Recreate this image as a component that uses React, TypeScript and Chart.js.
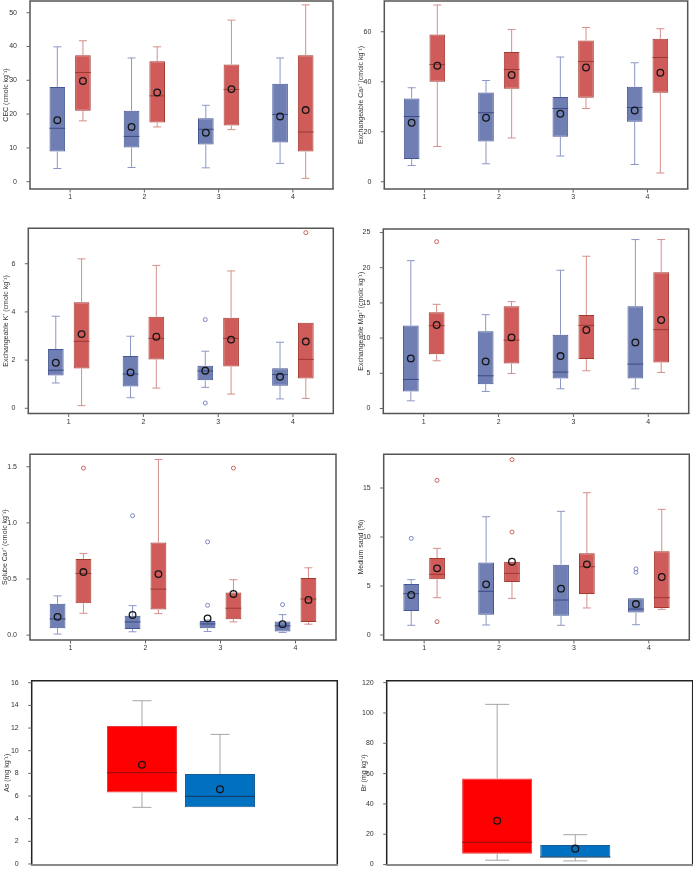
import React, { useEffect, useRef } from 'react';
import { Chart, registerables } from 'chart.js';

Chart.register(...registerables);

// ---------- DATA ----------
// each row (one per group): [min, q1, median, q3, max, mean]
const GROUPS = ['1', '2', '3', '4'];
const SITES = [''];

const CEC_BLUE = [[3.9, 8.9, 15.8, 28.0, 39.9, 18.2], [4.2, 10.1, 13.4, 21.0, 36.6, 16.2], [4.1, 11.0, 15.5, 18.8, 22.6, 14.5], [5.4, 11.6, 19.9, 29.0, 36.6, 19.3]];
const CEC_RED = [[18.0, 21.0, 32.3, 37.4, 41.7, 29.8], [16.2, 17.5, 25.4, 35.6, 39.9, 26.4], [15.4, 16.6, 27.3, 34.7, 47.8, 27.4], [1.0, 8.9, 14.7, 37.4, 52.3, 21.2]];
const CEC_TICKS = [0, 10, 20, 30, 40, 50];

const CA_BLUE = [[6.5, 9.1, 26.1, 33.3, 37.6, 23.6], [7.2, 16.1, 27.6, 35.7, 40.5, 25.6], [10.3, 18.0, 29.3, 33.9, 49.9, 27.2], [6.9, 24.0, 29.7, 38.0, 47.6, 28.5]];
const CA_RED = [[14.1, 40.0, 46.9, 58.9, 70.7, 46.4], [17.5, 37.2, 44.9, 51.9, 60.9, 42.7], [29.3, 33.6, 48.1, 56.5, 61.7, 45.7], [3.5, 35.6, 49.7, 57.2, 61.2, 43.6]];
const CA_TICKS = [0, 20, 40, 60];

const K_BLUE = [[1.05, 1.36, 1.58, 2.46, 3.82, 1.89], [0.44, 0.9, 1.42, 2.17, 2.99, 1.49], [0.87, 1.16, 1.55, 1.77, 2.37, 1.56], [0.39, 0.94, 1.4, 1.66, 2.74, 1.31]];
const K_RED = [[0.11, 1.65, 2.78, 4.4, 6.2, 3.08], [0.84, 2.03, 2.9, 3.8, 5.93, 2.97], [0.59, 1.73, 2.9, 3.76, 5.7, 2.85], [0.41, 1.24, 2.03, 3.55, 3.55, 2.77]];
const K_BLUE_OUT = [[], [], [3.68, 0.22], []];
const K_RED_OUT = [[], [], [], [7.29]];
const K_TICKS = [0, 2, 4, 6];

const MG_BLUE = [[1.09, 2.42, 4.13, 11.8, 21.0, 7.12], [2.42, 3.46, 4.65, 10.96, 13.33, 6.69], [2.8, 4.27, 5.17, 10.48, 19.64, 7.45], [2.8, 4.27, 6.31, 14.52, 24.0, 9.39]];
const MG_RED = [[6.78, 7.69, 11.76, 13.66, 14.8, 11.86], [4.98, 6.4, 9.72, 14.52, 15.18, 10.1], [5.36, 7.02, 11.81, 13.28, 21.63, 11.15], [5.12, 6.55, 11.2, 19.35, 24.0, 12.57]];
const MG_RED_OUT = [[23.7], [], [], []];
const MG_TICKS = [0, 5, 10, 15, 20, 25];

const SCA_BLUE = [[0.01, 0.062, 0.145, 0.28, 0.35, 0.163], [0.03, 0.056, 0.118, 0.172, 0.263, 0.18], [0.033, 0.062, 0.1, 0.127, 0.135, 0.15], [0.024, 0.033, 0.083, 0.121, 0.183, 0.098]];
const SCA_RED = [[0.195, 0.284, 0.55, 0.678, 0.728, 0.562], [0.192, 0.228, 0.41, 0.825, 1.565, 0.544], [0.118, 0.142, 0.24, 0.379, 0.494, 0.367], [0.098, 0.118, 0.322, 0.509, 0.6, 0.314]];
const SCA_BLUE_OUT = [[], [1.064], [0.266, 0.831], [0.272]];
const SCA_RED_OUT = [[1.488], [], [1.488], []];
const SCA_TICKS = [0, 0.5, 1.0, 1.5];

const SAND_BLUE = [[0.99, 2.45, 4.22, 5.2, 5.65, 4.08], [1.02, 2.07, 4.46, 7.41, 12.07, 5.17], [0.99, 1.97, 3.57, 7.18, 12.62, 4.73], [1.05, 2.3, 2.65, 3.75, 3.75, 3.16]];
const SAND_RED = [[3.81, 5.68, 6.19, 7.86, 8.84, 6.8], [3.74, 5.41, 6.29, 7.48, 7.48, 7.48], [2.76, 4.18, 6.97, 8.33, 14.52, 7.21], [2.62, 2.76, 3.81, 8.54, 12.82, 5.92]];
const SAND_BLUE_OUT = [[9.86], [], [], [6.75, 6.4]];
const SAND_RED_OUT = [[15.78, 1.36], [17.9, 10.5], [], []];
const SAND_TICKS = [0, 5, 10, 15];

const AS_RED = [[5.0, 6.32, 8.06, 12.18, 14.41, 8.76]];
const AS_BLUE = [[5.0, 5.0, 5.97, 7.94, 11.44, 6.59]];
const AS_TICKS = [0, 2, 4, 6, 8, 10, 12, 14, 16];

const BR_RED = [[2.85, 7.2, 14.7, 56.8, 105.7, 28.9]];
const BR_BLUE = [[2.4, 4.6, 5.0, 12.9, 19.7, 10.5]];
const BR_TICKS = [0, 20, 40, 60, 80, 100, 120];

// ---------- STYLES ----------
const FONT = '"Liberation Sans", Arial, sans-serif';
const SAS_BLUE = { fill: '#6F7EB3', border: '#445694', whisker: '#8C97C6', median: '#3A4A85', outStroke: '#7A86BE' };
const SAS_RED = { fill: '#D05B5B', border: '#A23A2E', whisker: '#D38F8A', median: '#9A3A30', outStroke: '#C8635C' };
const XL_RED = { fill: '#FF0000', border: '#E83A3A', whisker: '#A6A6A6', median: '#8B1010', outStroke: '#A6A6A6' };
const XL_BLUE = { fill: '#0070C0', border: '#1B5C96', whisker: '#A6A6A6', median: '#12375E', outStroke: '#A6A6A6' };

const SAS = { inset: [3, 3], cPct: 0.69, bPct: 0.61, capW: 8, meanR: 3.3, showX: true, frame2: '#555555', frameBottom: '#555555' };
const XL = { inset: [0, 7], cPct: 0.5225, bPct: 0.897, capW: 19, meanR: 3.4, showX: false, frame2: '#222222', frameBottom: '#8a8a8a' };

const PANELS = [
  { ...SAS, canvas: [0, 0, 346, 205], frame: [30, 1, 333, 189], titleX: 6, title: 'CEC (cmolc kg⁻¹)', ticks: CEC_TICKS, dec: 0, yMin: -2.16, yMax: 53.46, labels: GROUPS,
    series: [{ rows: CEC_BLUE, out: null, ...SAS_BLUE }, { rows: CEC_RED, out: null, ...SAS_RED }] },
  { ...SAS, canvas: [346, 0, 347, 205], frame: [384.3, 1, 687.7, 189], titleX: 361, title: 'Exchangeable Ca²⁺ (cmolc kg⁻¹)', ticks: CA_TICKS, dec: 0, yMin: -2.9, yMax: 72.3, labels: GROUPS,
    series: [{ rows: CA_BLUE, out: null, ...SAS_BLUE }, { rows: CA_RED, out: null, ...SAS_RED }] },
  { ...SAS, canvas: [0, 215, 346, 215], frame: [28.3, 228.3, 333.3, 413.5], titleX: 6, title: 'Exchangeable K⁺ (cmolc kg⁻¹)', ticks: K_TICKS, dec: 0, yMin: -0.216, yMax: 7.47, labels: GROUPS,
    series: [{ rows: K_BLUE, out: K_BLUE_OUT, ...SAS_BLUE }, { rows: K_RED, out: K_RED_OUT, ...SAS_RED }] },
  { ...SAS, canvas: [346, 215, 347, 215], frame: [383.3, 229, 688.7, 413.5], titleX: 361, title: 'Exchangeable Mg²⁺ (cmolc kg⁻¹)', ticks: MG_TICKS, dec: 0, yMin: -0.71, yMax: 25.5, labels: GROUPS,
    series: [{ rows: MG_BLUE, out: null, ...SAS_BLUE }, { rows: MG_RED, out: MG_RED_OUT, ...SAS_RED }] },
  { ...SAS, canvas: [0, 440, 346, 215], frame: [30, 454.3, 336, 640], titleX: 5, title: 'Solube Ca²⁺ (cmolc kg⁻¹)', ticks: SCA_TICKS, dec: 1, yMin: -0.043, yMax: 1.611, labels: GROUPS,
    series: [{ rows: SCA_BLUE, out: SCA_BLUE_OUT, ...SAS_BLUE }, { rows: SCA_RED, out: SCA_RED_OUT, ...SAS_RED }] },
  { ...SAS, canvas: [346, 440, 347, 215], frame: [383.7, 454.3, 689.3, 640], titleX: 361, title: 'Medium sand (%)', ticks: SAND_TICKS, dec: 0, yMin: -0.51, yMax: 18.44, labels: GROUPS,
    series: [{ rows: SAND_BLUE, out: SAND_BLUE_OUT, ...SAS_BLUE }, { rows: SAND_RED, out: SAND_RED_OUT, ...SAS_RED }] },
  { ...XL, canvas: [0, 665, 346, 205], frame: [31.7, 680.7, 337.3, 865], titleX: 7, title: 'As (mg kg⁻¹)', ticks: AS_TICKS, dec: 0, yMin: -0.09, yMax: 16.18, labels: SITES,
    series: [{ rows: AS_RED, out: null, ...XL_RED }, { rows: AS_BLUE, out: null, ...XL_BLUE }] },
  { ...XL, canvas: [346, 665, 347, 205], frame: [386.7, 680.7, 692.7, 865], titleX: 364, title: 'Br (mg kg⁻¹)', ticks: BR_TICKS, dec: 0, yMin: -0.3, yMax: 121.3, labels: SITES, capW: 24,
    series: [{ rows: BR_RED, out: null, ...XL_RED }, { rows: BR_BLUE, out: null, ...XL_BLUE }] },
];

function makePlugin(p: any) {
  return {
    id: 'boxExtras',
    afterDatasetsDraw(chart: any) {
      const ctx = chart.ctx;
      const ys = chart.scales.y;
      const xs = chart.scales.x;
      const ca = chart.chartArea;
      const fl = ca.left - p.inset[0];
      const fr = ca.right + p.inset[1];
      const ft = ca.top;
      const fb = ca.bottom;
      const py = (v: number) => ys.getPixelForValue(v);
      const line = (x1: number, y1: number, x2: number, y2: number) => {
        ctx.beginPath(); ctx.moveTo(x1, y1); ctx.lineTo(x2, y2); ctx.stroke();
      };
      const circle = (x: number, y: number, r: number) => {
        ctx.beginPath(); ctx.arc(x, y, r, 0, Math.PI * 2); ctx.stroke();
      };
      ctx.save();
      p.series.forEach((s: any, di: number) => {
        const meta = chart.getDatasetMeta(di);
        meta.data.forEach((el: any, j: number) => {
          const r = s.rows[j];
          const cx = el.x;
          const w = el.width;
          ctx.lineWidth = 1;
          ctx.strokeStyle = s.whisker;
          if (r[4] > r[3]) {
            line(cx, py(r[3]), cx, py(r[4]));
            line(cx - p.capW / 2, py(r[4]), cx + p.capW / 2, py(r[4]));
          }
          if (r[0] < r[1]) {
            line(cx, py(r[1]), cx, py(r[0]));
            line(cx - p.capW / 2, py(r[0]), cx + p.capW / 2, py(r[0]));
          }
          ctx.strokeStyle = s.median;
          line(cx - w / 2, py(r[2]), cx + w / 2, py(r[2]));
          ctx.strokeStyle = '#151515';
          ctx.lineWidth = 1.3;
          circle(cx, py(r[5]), p.meanR);
          const outs = s.out ? s.out[j] : [];
          ctx.strokeStyle = s.outStroke;
          ctx.lineWidth = 1;
          outs.forEach((v: number) => circle(cx, py(v), 2));
        });
      });
      // frame
      ctx.lineWidth = 1.5;
      ctx.strokeStyle = p.frame2;
      ctx.beginPath();
      ctx.moveTo(fl, fb); ctx.lineTo(fl, ft); ctx.lineTo(fr, ft); ctx.lineTo(fr, fb);
      ctx.stroke();
      ctx.strokeStyle = p.frameBottom;
      ctx.lineWidth = p.showX ? 1.5 : 2;
      line(fl - 0.75, fb, fr + 0.75, fb);
      // tick marks
      ctx.lineWidth = 1;
      ctx.strokeStyle = '#666';
      ys.ticks.forEach((t: any) => {
        const yy = py(t.value);
        line(fl - 3.5, yy, fl, yy);
      });
      if (p.showX) {
        xs.ticks.forEach((_t: any, i: number) => {
          const xx = xs.getPixelForTick(i);
          line(xx, fb, xx, fb + 3.5);
        });
      }
      ctx.restore();
    },
  };
}

function buildConfig(p: any) {
  const [x0, y0, w, h] = p.canvas;
  const chartLeft = p.frame[0] + p.inset[0];
  const chartRight = p.frame[2] - p.inset[1];
  const padLeft = Math.max(0, p.titleX - x0 - 4.2);
  const yAxisW = chartLeft - x0 - padLeft;
  const padRight = x0 + w - chartRight;
  const padTop = p.frame[1] - y0;
  const xAxisH = y0 + h - p.frame[3];
  const tickFont = { family: FONT, size: 7 };
  return {
    type: 'bar',
    data: {
      labels: p.labels,
      datasets: p.series.map((s: any) => ({
        data: s.rows.map((r: number[]) => [r[1], r[3]]),
        backgroundColor: s.fill,
        borderColor: s.border,
        borderWidth: 1,
        borderSkipped: false,
        categoryPercentage: p.cPct,
        barPercentage: p.bPct,
      })),
    },
    options: {
      animation: false,
      responsive: false,
      maintainAspectRatio: false,
      events: [],
      layout: { padding: { left: padLeft, right: padRight, top: padTop, bottom: 0 } },
      plugins: { legend: { display: false }, tooltip: { enabled: false }, title: { display: false } },
      scales: {
        x: {
          type: 'category',
          offset: true,
          grid: { display: false },
          border: { display: false },
          ticks: { display: p.showX, font: tickFont, color: '#333', padding: -4, maxRotation: 0, autoSkip: false },
          afterFit: (s: any) => { s.height = xAxisH; s.paddingLeft = 0; s.paddingRight = 0; },
        },
        y: {
          type: 'linear',
          min: p.yMin,
          max: p.yMax,
          afterBuildTicks: (s: any) => { s.ticks = p.ticks.map((v: number) => ({ value: v })); },
          grid: { display: false },
          border: { display: false },
          ticks: {
            font: tickFont,
            color: '#333',
            padding: p.inset[0] + 5,
            callback: (v: any) => Number(v).toFixed(p.dec),
          },
          title: { display: true, text: p.title, font: { family: FONT, size: 7 }, color: '#333', padding: 0 },
          afterFit: (s: any) => { s.width = yAxisW; s.paddingTop = 0; s.paddingBottom = 0; },
        },
      },
    },
    plugins: [makePlugin(p)],
  };
}

function PanelChart({ p }: { p: any }) {
  const ref = useRef<HTMLCanvasElement | null>(null);
  useEffect(() => {
    if (!ref.current) return;
    const chart = new Chart(ref.current, buildConfig(p) as any);
    return () => chart.destroy();
  }, [p]);
  const [x, y, w, h] = p.canvas;
  return (
    <canvas
      ref={ref}
      width={w}
      height={h}
      style={{ position: 'absolute', left: x, top: y, width: w, height: h }}
    />
  );
}

export default function App() {
  return (
    <div style={{ position: 'absolute', left: 0, top: 0, width: 693, height: 870, background: '#ffffff', overflow: 'hidden' }}>
      {PANELS.map((p, i) => (
        <PanelChart key={i} p={p} />
      ))}
    </div>
  );
}
